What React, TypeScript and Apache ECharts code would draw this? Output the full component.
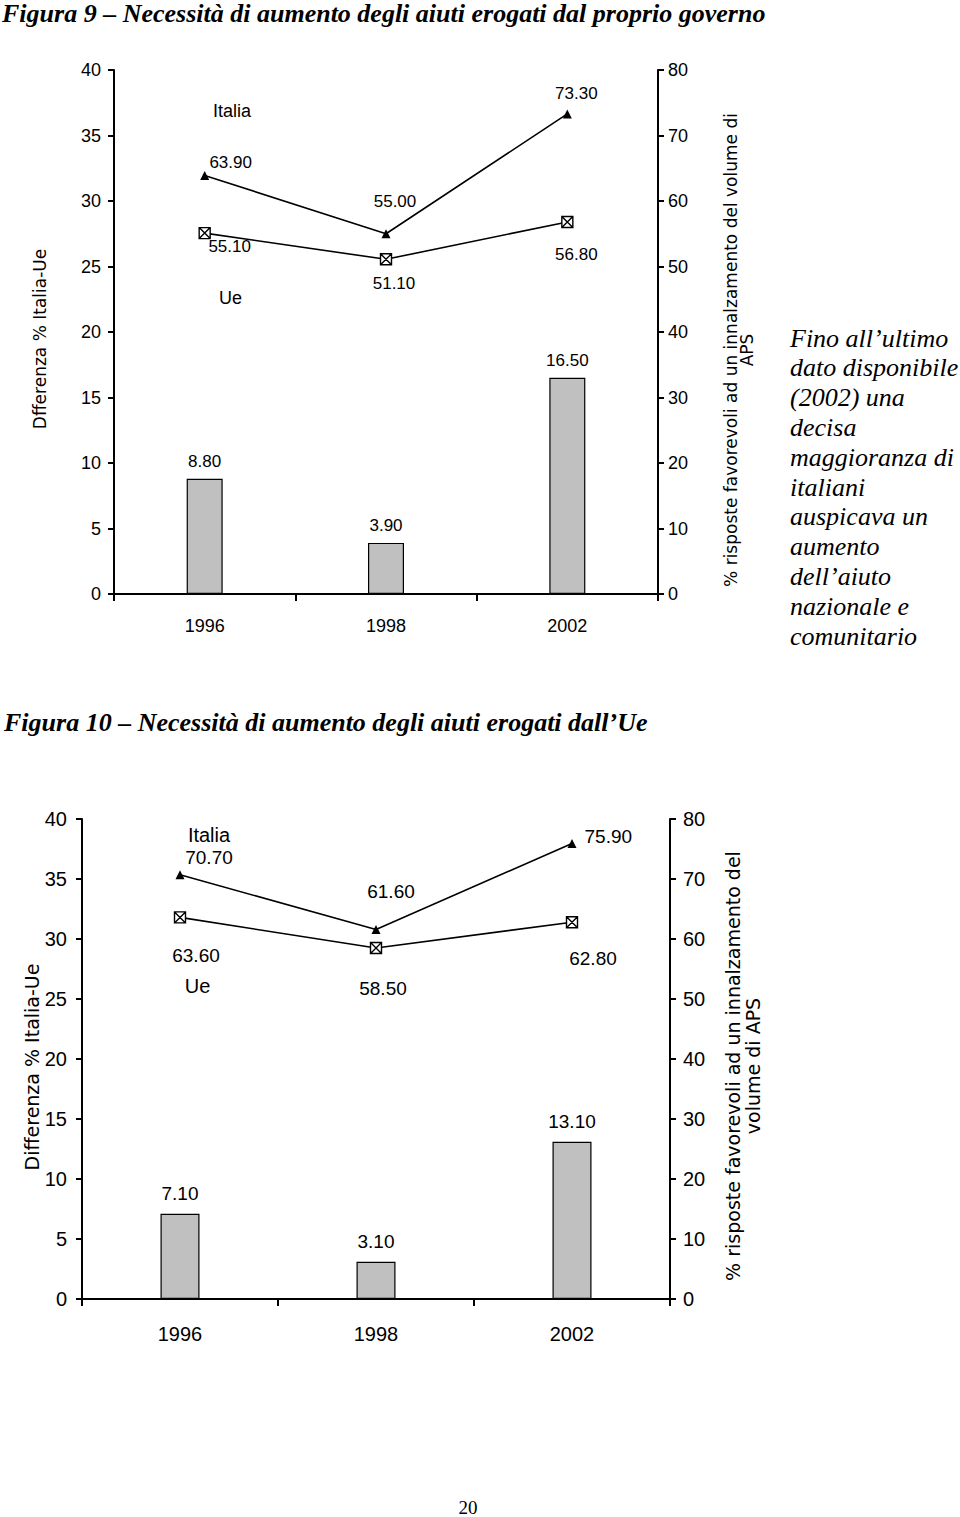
import React, { useEffect, useRef } from "react";
import * as echarts from "echarts";

// ---------- data ----------
const years = ["1996", "1998", "2002"];

const fig9Title = "Figura 9 – Necessità di aumento degli aiuti erogati dal proprio governo";
const fig9Diff = [8.8, 3.9, 16.5];
const fig9Italia = [63.9, 55.0, 73.3];
const fig9Ue = [55.1, 51.1, 56.8];
const fig9LeftName = "Dfferenza % Italia-Ue";
const fig9RightName = "% risposte favorevoli ad un innalzamento del volume di\nAPS";

const fig10Title = "Figura 10 – Necessità di aumento degli aiuti erogati dall’Ue";
const fig10Diff = [7.1, 3.1, 13.1];
const fig10Italia = [70.7, 61.6, 75.9];
const fig10Ue = [63.6, 58.5, 62.8];
const fig10LeftName = "Differenza % Italia-Ue";
const fig10RightName = "% risposte favorevoli ad un innalzamento del\nvolume di APS";

const leftAxisMax = 40;
const leftAxisStep = 5;
const rightAxisMax = 80;
const rightAxisStep = 10;

const sideNote = [
  "Fino all’ultimo",
  "dato disponibile",
  "(2002) una",
  "decisa",
  "maggioranza di",
  "italiani",
  "auspicava un",
  "aumento",
  "dell’aiuto",
  "nazionale e",
  "comunitario",
];
const pageNumber = "20";

// ---------- styles ----------
const NARROW = '"Liberation Sans Narrow", "Arial Narrow", "Liberation Sans", Arial, sans-serif';
const WIDE = '"DejaVu Sans", Verdana, sans-serif';
const SERIF = '"Liberation Serif", "Times New Roman", serif';
const UE_SYMBOL = "path://M0,0L10,0L10,10L0,10Z M0,0L10,10 M10,0L0,10";

const fmt = (v: number) => v.toFixed(2);

type LabelPos = { position: string; distance: number; offset: [number, number] };

function buildChart(
  gi: number,
  diff: number[],
  italia: number[],
  ue: number[],
  cfg: {
    tickSize: number;
    labelSize: number;
    xMargin: number;
    leftMargin: number;
    rightMargin: number;
    barWidth: number;
    barDist: number;
    italiaPos: LabelPos[];
    uePos: LabelPos[];
  }
) {
  const axisLine = { show: true, lineStyle: { color: "#000", width: 2 } };
  const axisTick = { show: true, length: 6, lineStyle: { color: "#000", width: 2 } };
  const xAxis = {
    type: "category",
    gridIndex: gi,
    data: years,
    boundaryGap: true,
    axisLine,
    axisTick: { ...axisTick, length: 7 },
    axisLabel: { color: "#000", fontFamily: NARROW, fontSize: cfg.tickSize, margin: cfg.xMargin },
    splitLine: { show: false },
  };
  const yLeft = {
    type: "value",
    gridIndex: gi,
    position: "left",
    min: 0,
    max: leftAxisMax,
    interval: leftAxisStep,
    axisLine,
    axisTick,
    splitLine: { show: false },
    axisLabel: { color: "#000", fontFamily: NARROW, fontSize: cfg.tickSize, margin: cfg.leftMargin },
  };
  const yRight = {
    type: "value",
    gridIndex: gi,
    position: "right",
    min: 0,
    max: rightAxisMax,
    interval: rightAxisStep,
    axisLine,
    axisTick,
    splitLine: { show: false },
    axisLabel: { color: "#000", fontFamily: NARROW, fontSize: cfg.tickSize, margin: cfg.rightMargin },
  };
  const labelBase = {
    show: true,
    color: "#000",
    fontFamily: NARROW,
    fontSize: cfg.labelSize,
    formatter: (p: any) => fmt(p.value),
  };
  const series = [
    {
      type: "bar",
      xAxisIndex: gi,
      yAxisIndex: gi * 2,
      data: diff,
      barWidth: cfg.barWidth,
      itemStyle: { color: "#c0c0c0", borderColor: "#000", borderWidth: 1.2 },
      label: { ...labelBase, position: "top", distance: cfg.barDist },
    },
    {
      type: "line",
      name: "Italia",
      xAxisIndex: gi,
      yAxisIndex: gi * 2 + 1,
      data: italia.map((v, i) => ({ value: v, label: cfg.italiaPos[i] })),
      symbol: "triangle",
      symbolSize: 9,
      lineStyle: { color: "#000", width: 1.6 },
      itemStyle: { color: "#000" },
      label: { ...labelBase },
      z: 3,
    },
    {
      type: "line",
      name: "Ue",
      xAxisIndex: gi,
      yAxisIndex: gi * 2 + 1,
      data: ue.map((v, i) => ({ value: v, label: cfg.uePos[i] })),
      symbol: UE_SYMBOL,
      symbolSize: 11,
      showAllSymbol: true,
      lineStyle: { color: "#000", width: 1.6 },
      itemStyle: { color: "#fff", borderColor: "#000", borderWidth: 1.4 },
      label: { ...labelBase },
      z: 4,
    },
  ];
  return { xAxis, yAxes: [yLeft, yRight], series };
}

function rotText(x: number, y: number, text: string, fontSize: number, lineHeight: number) {
  return {
    type: "text",
    x,
    y,
    rotation: Math.PI / 2,
    style: {
      text,
      x: 0,
      y: 0,
      align: "center",
      verticalAlign: "middle",
      fontFamily: WIDE,
      fontSize,
      lineHeight,
      fill: "#000",
    },
  };
}

function plainText(x: number, y: number, text: string, font: any) {
  return {
    type: "text",
    x,
    y,
    style: { text, x: 0, y: 0, fill: "#000", ...font },
  };
}

export default function App() {
  const ref = useRef<HTMLDivElement>(null);
  useEffect(() => {
    document.body.style.margin = "0";
    if (!ref.current) return;
    const chart = echarts.init(ref.current, null, { renderer: "svg" });

    const c9 = buildChart(0, fig9Diff, fig9Italia, fig9Ue, {
      tickSize: 18,
      labelSize: 17,
      xMargin: 23,
      leftMargin: 13,
      rightMargin: 10,
      barWidth: 36,
      barDist: 9,
      italiaPos: [
        { position: "top", distance: 0, offset: [26, 0] },
        { position: "top", distance: 19, offset: [9, 0] },
        { position: "top", distance: 7, offset: [9, 0] },
      ],
      uePos: [
        { position: "bottom", distance: 0, offset: [25, -1] },
        { position: "bottom", distance: 10, offset: [8, 0] },
        { position: "bottom", distance: 18, offset: [9, 0] },
      ],
    });
    const c10 = buildChart(1, fig10Diff, fig10Italia, fig10Ue, {
      tickSize: 20,
      labelSize: 19,
      xMargin: 25,
      leftMargin: 15,
      rightMargin: 13,
      barWidth: 39,
      barDist: 11,
      italiaPos: [
        { position: "top", distance: 0, offset: [29, -3] },
        { position: "top", distance: 24, offset: [15, 0] },
        { position: "right", distance: 8, offset: [0, -7] },
      ],
      uePos: [
        { position: "bottom", distance: 22, offset: [16, 0] },
        { position: "bottom", distance: 25, offset: [7, 0] },
        { position: "bottom", distance: 21, offset: [21, 0] },
      ],
    });

    const titleFont = { fontFamily: SERIF, fontStyle: "italic", fontWeight: "bold", fontSize: 26 };
    const annFont9 = { fontFamily: NARROW, fontSize: 18, align: "center", verticalAlign: "middle" };
    const annFont10 = { fontFamily: NARROW, fontSize: 20, align: "center", verticalAlign: "middle" };

    chart.setOption({
      animation: false,
      backgroundColor: "#fff",
      grid: [
        { left: 114, top: 70, width: 544, height: 524 },
        { left: 82, top: 819, width: 588, height: 480 },
      ],
      xAxis: [c9.xAxis, c10.xAxis],
      yAxis: [...c9.yAxes, ...c10.yAxes],
      series: [...c9.series, ...c10.series],
      graphic: [
        plainText(2, 13, fig9Title, { ...titleFont, verticalAlign: "middle" }),
        plainText(4, 722, fig10Title, { ...titleFont, verticalAlign: "middle" }),
        rotText(40, 339, fig9LeftName, 17, 18),
        rotText(739, 350, fig9RightName, 17, 16),
        rotText(32, 1067, fig10LeftName, 19, 20),
        rotText(743, 1066, fig10RightName, 19, 20),
        plainText(232, 110.5, "Italia", annFont9),
        plainText(230.5, 297.5, "Ue", annFont9),
        plainText(209, 834.5, "Italia", annFont10),
        plainText(197.5, 985.5, "Ue", annFont10),
        plainText(790, 338, sideNote.join("\n"), {
          fontFamily: SERIF,
          fontStyle: "italic",
          fontSize: 26,
          lineHeight: 29.8,
          align: "left",
          verticalAlign: "top",
          y: -14.9,
        }),
        plainText(468, 1507, pageNumber, {
          fontFamily: SERIF,
          fontSize: 19,
          align: "center",
          verticalAlign: "middle",
        }),
      ],
    });
    return () => chart.dispose();
  }, []);
  return <div ref={ref} style={{ width: 960, height: 1517 }} />;
}
